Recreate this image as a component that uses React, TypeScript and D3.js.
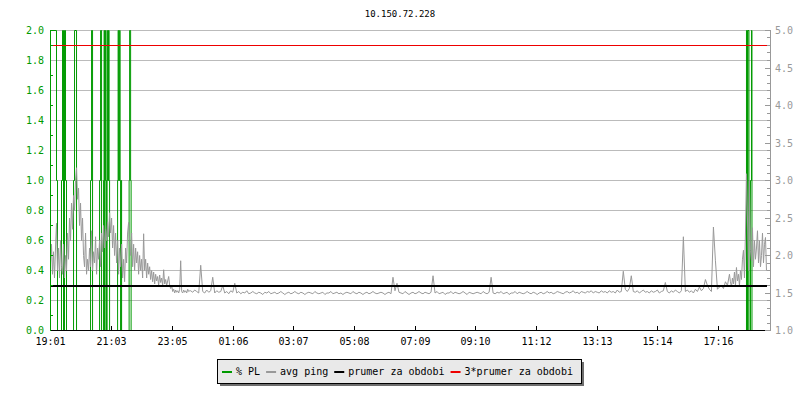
import React from 'react';
import * as d3 from 'd3';

const chartTitle = '10.150.72.228';
const startTime = '19:01';
const spanMinutes = 1432;
const xTickLabels = ['19:01', '21:03', '23:05', '01:06', '03:07', '05:08', '07:09', '09:10', '11:12', '13:13', '15:14', '17:16'];
const leftTickValues = [0, 0.2, 0.4, 0.6, 0.8, 1.0, 1.2, 1.4, 1.6, 1.8, 2.0];
const rightTickValues = [1.0, 1.5, 2.0, 2.5, 3.0, 3.5, 4.0, 4.5, 5.0];
const avgPing = 1.6;
const avgMultiplier = 3;

// avg ping, 2-minute samples from 19:01
const pingEarlyStart = 0;
const pingEarlyStep = 2;
const pingEarly = [
  1.9, 2.15, 1.75, 2.05, 1.7, 2.1, 2.43, 1.8,
  2.1, 1.7, 2.2, 1.85, 1.75, 2.15, 1.7, 2.0,
  1.8, 2.3, 1.95, 2.5, 2.2, 2.7, 2.35, 2.8,
  2.6, 3.0, 3.17, 2.75, 2.9, 2.4, 2.7, 2.2,
  2.5, 2.0, 1.85, 2.3, 1.75, 1.95, 1.8, 2.1,
  1.85, 2.33, 1.8, 2.05, 1.9, 2.25, 1.75, 2.1,
  1.95, 2.2, 1.85, 2.3, 2.05, 2.4, 2.1, 2.35,
  2.2, 2.45, 2.25, 2.57, 2.3, 2.5, 2.1, 2.4,
  2.0, 2.3, 1.9, 2.2, 1.75, 2.1, 1.85, 2.15,
  1.7, 1.95, 1.65, 2.1, 1.9, 2.3, 2.44, 2.2,
  2.0, 2.3, 1.85, 2.15, 1.8, 2.1, 1.9, 2.05,
  1.75, 2.0, 1.8, 1.95, 1.7, 2.29, 1.8, 1.95,
  1.7, 1.9, 1.75, 1.85, 1.68, 1.8, 1.65, 1.78,
  1.62, 1.75, 1.66, 1.72, 1.6, 1.74, 1.64, 1.7,
  1.6, 1.81, 1.62, 1.68, 1.6, 1.66, 1.72, 1.6,
  1.56, 1.6, 1.52, 1.55, 1.5, 1.54, 1.51, 1.53,
  1.5, 1.55, 1.93, 1.52, 1.5, 1.54, 1.51, 1.53,
  1.5, 1.55, 1.52, 1.53,
];

// avg ping, 4-minute samples through the quiet night
const pingMidStart = 280;
const pingMidStep = 4;
const pingMid = [
  1.53, 1.51, 1.54, 1.52, 1.5, 1.87, 1.52, 1.5, 1.54, 1.51, 1.53, 1.71, 1.5, 1.53, 1.51, 1.52, 1.6, 1.5, 1.52, 1.49, 1.53, 1.51, 1.63,
  1.5, 1.52, 1.49, 1.51, 1.5, 1.53, 1.49, 1.5, 1.52, 1.5,
  1.49, 1.51, 1.5, 1.48, 1.51, 1.5, 1.52, 1.49, 1.5, 1.51,
  1.49, 1.5, 1.52, 1.5, 1.48, 1.5, 1.51, 1.49, 1.5, 1.52,
  1.5, 1.49, 1.51, 1.5, 1.48, 1.5, 1.51, 1.5, 1.49, 1.52,
  1.5, 1.49, 1.5, 1.51, 1.48, 1.5, 1.5, 1.52, 1.49, 1.5,
  1.51, 1.49, 1.5, 1.48, 1.5, 1.51, 1.5, 1.49, 1.52, 1.5,
  1.49, 1.51, 1.5, 1.48, 1.5, 1.51, 1.49, 1.5, 1.52, 1.5,
  1.49, 1.5, 1.51, 1.5, 1.48, 1.5, 1.51, 1.49,
  1.71, 1.53, 1.63,
  1.51, 1.5, 1.49, 1.52, 1.5, 1.48, 1.5, 1.51, 1.49, 1.5, 1.52, 1.5, 1.49, 1.51, 1.5, 1.49, 1.51,
  1.73,
  1.5, 1.52, 1.49, 1.5, 1.51, 1.48, 1.5, 1.5, 1.52, 1.49, 1.51, 1.5, 1.49, 1.5, 1.52, 1.5, 1.48, 1.51, 1.5, 1.49, 1.5, 1.51, 1.5, 1.49, 1.52, 1.5, 1.49, 1.51,
  1.71,
  1.5, 1.49, 1.51, 1.5, 1.52, 1.49, 1.5, 1.51, 1.48, 1.5,
  1.5, 1.52, 1.49, 1.51, 1.5, 1.49, 1.5, 1.52, 1.5, 1.49,
  1.51, 1.5, 1.48, 1.5, 1.51, 1.49, 1.5, 1.52, 1.5, 1.51,
  1.49, 1.5, 1.52, 1.51, 1.5, 1.49, 1.51, 1.52, 1.5, 1.51,
  1.53, 1.5, 1.51, 1.49, 1.52, 1.51, 1.5, 1.52, 1.51, 1.53,
  1.5, 1.52, 1.51, 1.5, 1.53, 1.51, 1.52, 1.5, 1.53, 1.51,
  1.52, 1.5, 1.54, 1.51, 1.52,
  1.79, 1.55, 1.52, 1.56, 1.73,
  1.52, 1.51, 1.53, 1.5, 1.52, 1.54, 1.51, 1.52, 1.5, 1.53, 1.51, 1.52, 1.54, 1.5, 1.52, 1.53,
  1.64,
  1.52, 1.5, 1.53, 1.51, 1.54, 1.52, 1.5, 1.53,
  2.25,
  1.52, 1.54, 1.51, 1.53, 1.5, 1.55, 1.52, 1.58, 1.53, 1.56,
  1.68, 1.6, 1.55, 1.52, 2.38, 1.93, 1.55, 1.58, 1.6, 1.56, 1.65, 1.6, 1.75,
];

// avg ping, 2-minute samples at the end of the period
const pingLateStart = 1358;
const pingLateStep = 2;
const pingLate = [
  1.65, 1.58, 1.7, 1.62, 1.78, 1.6, 1.84, 1.66, 1.75, 1.6,
  1.8, 1.68, 1.95, 2.07, 1.7, 2.3, 3.09, 2.5, 1.8, 3.0,
  2.07, 1.93, 2.37, 1.85, 2.2, 1.95, 2.1, 2.33, 1.9, 2.2,
  1.85, 2.0, 2.3, 1.9, 2.15, 2.24, 1.8,
];

// % packet loss: value changes (minutes from start -> value until the next change)
const plTimes = [
  0, 12, 14, 22, 24, 26, 28, 30, 32, 46, 48, 52, 80, 82, 84, 98, 100, 102,
  106, 107, 108, 109, 110, 111, 112, 113, 114, 115, 116, 117, 118,
  134, 135, 136, 138, 139, 140, 141, 142, 157, 158, 160, 161,
  1390, 1392, 1393, 1395, 1398, 1400, 1401,
];
const plValues = [
  2.5, 1, 0, 1, 2.5, 0, 2.5, 1, 0, 1, 2.5, 0, 1, 2.5, 0, 1, 2.5, 0,
  1, 2.5, 0, 1, 2.5, 1, 0, 1, 2.5, 1, 2.5, 1, 0,
  1, 2.5, 1, 2.5, 1, 0, 1, 0, 1, 2.5, 1, 0,
  2.5, 0, 2.5, 0, 1, 2.5, 0,
];

const legendLabels = ['% PL', 'avg ping', 'prumer za obdobi', '3*prumer za obdobi'];
const legendColors = ['#009a00', '#999999', '#000000', '#ee0000'];

const FONT = '"DejaVu Sans Mono", monospace';

export default function App() {
  const W = 800, H = 400;
  const left = 50, right = 767, top = 30, bottom = 330;
  const rAxisX = 770;

  const x = d3.scaleLinear().domain([0, spanMinutes]).range([left, right]);
  const yL = d3.scaleLinear().domain([0, 2]).range([bottom, top]).clamp(true);
  const yR = d3.scaleLinear().domain([1, 5]).range([bottom, top]).clamp(true);

  const toMin = (s: string) => {
    const [h, m] = s.split(':').map(Number);
    const [h0, m0] = startTime.split(':').map(Number);
    return ((h * 60 + m) - (h0 * 60 + m0) + 1440) % 1440;
  };

  const pingPts: [number, number][] = [
    ...pingEarly.map((v, i) => [pingEarlyStart + i * pingEarlyStep, v] as [number, number]),
    ...pingMid.map((v, i) => [pingMidStart + i * pingMidStep, v] as [number, number]),
    ...pingLate.map((v, i) => [pingLateStart + i * pingLateStep, v] as [number, number]),
  ];
  const pingPath = d3.line<[number, number]>().x(d => x(d[0])).y(d => yR(d[1]))(pingPts) || '';

  const plPts: [number, number][] = plTimes.map((t, i) => [t, plValues[i]] as [number, number]);
  plPts.push([spanMinutes, 0]);
  const plPath = d3.line<[number, number]>().curve(d3.curveStepAfter).x(d => x(d[0])).y(d => yL(d[1]))(plPts) || '';

  const leftMinor = d3.range(1, 20, 2).map(k => k / 10);
  const rightMinor = d3.range(10, 51).map(k => k / 10);

  // legend layout
  const charW = 6.02;
  let cursor = 222;
  const legendItems = legendLabels.map((label, i) => {
    const sx = cursor;
    const tx = sx + 14;
    cursor = tx + label.length * charW + 6;
    return { label, color: legendColors[i], sx, tx };
  });

  return (
    <svg width={W} height={H} style={{ position: 'absolute', left: 0, top: 0, background: '#fff' }}
      fontFamily={FONT}>
      <rect x={0} y={0} width={W} height={H} fill="#ffffff" />
      <defs>
        <clipPath id="plot">
          <rect x={left} y={top} width={right - left + 1} height={bottom - top + 1} />
        </clipPath>
      </defs>
      <text x={400} y={17} textAnchor="middle" fontSize={9} fill="#000">{chartTitle}</text>

      {/* grid */}
      {leftTickValues.filter(v => v > 0).map(v => (
        <line key={'g' + v} x1={left} x2={right} y1={yL(v) + 0.5} y2={yL(v) + 0.5} stroke="#bbbbbb" strokeWidth={1} />
      ))}

      {/* % PL */}
      <path d={plPath} transform="translate(0.5,0.5)" fill="none" stroke="#009a00" strokeWidth={1} />

      {/* avg ping */}
      <g clipPath="url(#plot)">
        <path d={pingPath} transform="translate(0.5,0.5)" fill="none" stroke="#999999" strokeWidth={1} />
      </g>

      {/* average and 3*average */}
      <line x1={left} x2={right} y1={yR(avgPing) + 1} y2={yR(avgPing) + 1} stroke="#000" strokeWidth={2} />
      <line x1={left} x2={right} y1={yR(avgPing * avgMultiplier) + 0.5} y2={yR(avgPing * avgMultiplier) + 0.5} stroke="#ee0000" strokeWidth={1} />

      {/* x axis */}
      <line x1={left} x2={right} y1={bottom + 0.5} y2={bottom + 0.5} stroke="#000" strokeWidth={1} />
      {xTickLabels.map(l => {
        const px = Math.round(x(toMin(l))) + 0.5;
        return (
          <g key={'x' + l}>
            <line x1={px} x2={px} y1={bottom - 4} y2={bottom} stroke="#000" strokeWidth={1} />
            <text x={px} y={345} textAnchor="middle" fontSize={10} fill="#000">{l}</text>
          </g>
        );
      })}

      {/* left axis */}
      <line x1={left + 0.5} x2={left + 0.5} y1={top} y2={bottom + 1} stroke="#009a00" strokeWidth={1} />
      {leftMinor.map(v => (
        <line key={'lm' + v} x1={left} x2={left + 3} y1={yL(v) + 0.5} y2={yL(v) + 0.5} stroke="#009a00" strokeWidth={1} />
      ))}
      {leftTickValues.map(v => (
        <text key={'lt' + v} x={44} y={yL(v) + 4} textAnchor="end" fontSize={10} fill="#009a00">{v.toFixed(1)}</text>
      ))}

      {/* right axis */}
      <line x1={rAxisX + 0.5} x2={rAxisX + 0.5} y1={top} y2={bottom + 1} stroke="#999999" strokeWidth={1} />
      {rightMinor.map(v => {
        const major = Math.abs(v * 2 - Math.round(v * 2)) < 1e-6;
        return (
          <line key={'rm' + v} x1={rAxisX - (major ? 5 : 3)} x2={rAxisX} y1={Math.round(yR(v)) + 0.5} y2={Math.round(yR(v)) + 0.5}
            stroke="#999999" strokeWidth={1} />
        );
      })}
      {rightTickValues.map(v => (
        <text key={'rt' + v} x={775} y={yR(v) + 4} textAnchor="start" fontSize={10} fill="#999999">{v.toFixed(1)}</text>
      ))}

      {/* legend */}
      <rect x={220} y={362} width={364} height={24} fill="#6e6e6e" />
      <rect x={217.5} y={359.5} width={364} height={24} fill="#e9e9e9" stroke="#000" strokeWidth={1} />
      {legendItems.map(it => (
        <g key={it.label}>
          <rect x={it.sx} y={371} width={10} height={2} fill={it.color} />
          <text x={it.tx} y={374.5} fontSize={10} fill="#000">{it.label}</text>
        </g>
      ))}
    </svg>
  );
}
